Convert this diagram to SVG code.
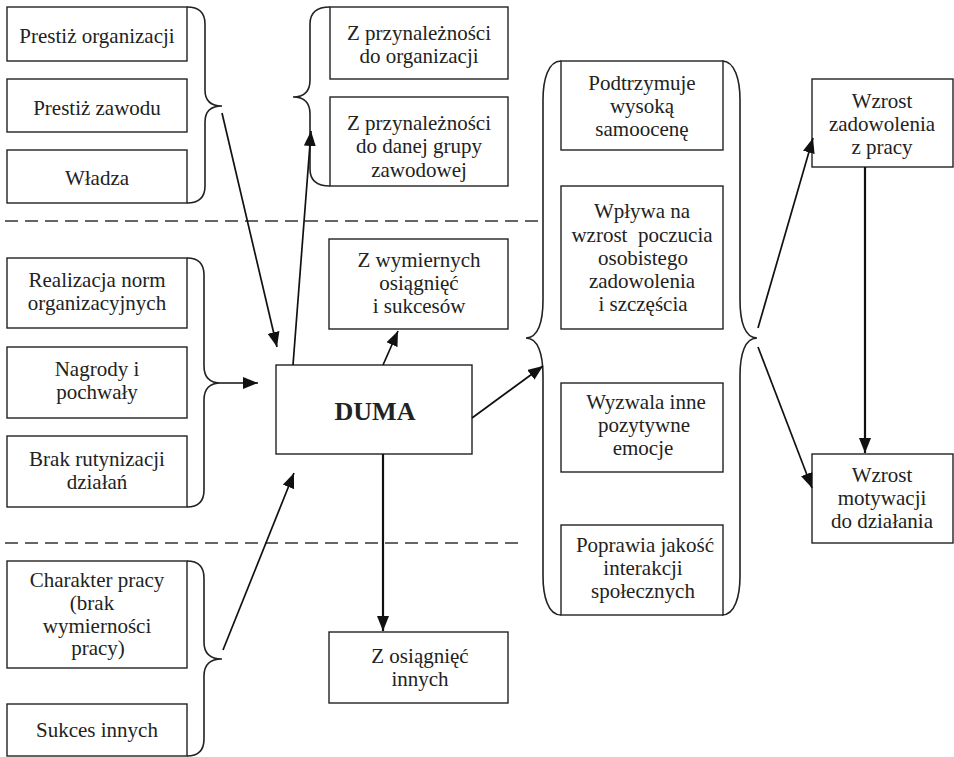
<svg xmlns="http://www.w3.org/2000/svg" width="954" height="757" viewBox="0 0 954 757">
  <style>
    .box { fill: #fff; stroke: #222; stroke-width: 1.4; }
    .brace { fill: none; stroke: #222; stroke-width: 1.6; }
    .t { font-family: "Liberation Serif", "Times New Roman", serif; font-size: 21px; fill: #222; text-anchor: middle; }
    .big { font-family: "Liberation Serif", "Times New Roman", serif; font-size: 26px; font-weight: bold; fill: #222; text-anchor: middle; }
    .conn { fill: none; stroke: #111; stroke-width: 1.7; }
    .thick { stroke-width: 2.2; }
    .dash { fill: none; stroke: #333; stroke-width: 1.5; stroke-dasharray: 13 7; }
  </style>
  <defs>
    <marker id="arrow" markerUnits="userSpaceOnUse" markerWidth="16" markerHeight="12" refX="15" refY="6" orient="auto">
      <path d="M0,0 L15,6 L0,12 z" fill="#111"/>
    </marker>
  </defs>

  <rect width="954" height="757" fill="#fff"/>

  <!-- section separators -->
  <g id="separators">
    <line class="dash" x1="5" y1="221" x2="540" y2="221"/>
    <line class="dash" x1="5" y1="543" x2="525" y2="543"/>
  </g>

  <!-- braces grouping the boxes -->
  <g id="braces">
    <path class="brace" d="M187,7 Q205,7 205,24 L205,90 Q205,106 222,106 Q205,106 205,122 L205,186 Q205,203 187,203"/>
    <path class="brace" d="M330,7 Q310,7 310,24 L310,80 Q310,97 293,97 Q310,97 310,114 L310,169 Q310,186 330,186"/>
    <path class="brace" d="M187,258 Q204,258 204,275 L204,366 Q204,383 221,383 Q204,383 204,400 L204,490 Q204,507 187,507"/>
    <path class="brace" d="M187,561 Q204,561 204,578 L204,642 Q204,659 222,659 Q204,659 204,676 L204,739 Q204,756 187,756"/>
    <path class="brace" d="M561,61 C548,61 543,80 543,100 L543,300 C543,322 538,338 526,338 C538,338 543,354 543,376 L543,576 C543,596 548,615 561,615"/>
    <path class="brace" d="M722,61 C735,61 740,80 740,100 L740,300 C740,322 745,338 757,338 C745,338 740,354 740,376 L740,576 C740,596 735,615 722,615"/>
  </g>

  <!-- left column -->
  <g id="prestiz-organizacji">
    <rect class="box" x="7" y="7" width="180" height="54"/>
    <text class="t" x="97" y="43">Prestiż organizacji</text>
  </g>
  <g id="prestiz-zawodu">
    <rect class="box" x="7" y="79" width="180" height="53"/>
    <text class="t" x="97" y="115">Prestiż zawodu</text>
  </g>
  <g id="wladza">
    <rect class="box" x="7" y="150" width="180" height="53"/>
    <text class="t" x="97" y="185">Władza</text>
  </g>
  <g id="realizacja-norm">
    <rect class="box" x="7" y="258" width="180" height="70"/>
    <text class="t" x="97" y="287">Realizacja norm</text>
    <text class="t" x="97" y="310">organizacyjnych</text>
  </g>
  <g id="nagrody">
    <rect class="box" x="7" y="347" width="180" height="71"/>
    <text class="t" x="97" y="376">Nagrody i</text>
    <text class="t" x="97" y="399">pochwały</text>
  </g>
  <g id="brak-rutynizacji">
    <rect class="box" x="7" y="436" width="180" height="71"/>
    <text class="t" x="97" y="466">Brak rutynizacji</text>
    <text class="t" x="97" y="489">działań</text>
  </g>
  <g id="charakter-pracy">
    <rect class="box" x="7" y="561" width="180" height="107"/>
    <text class="t" x="97" y="587">Charakter pracy</text>
    <text class="t" x="92" y="610">(brak</text>
    <text class="t" x="97" y="633">wymierności</text>
    <text class="t" x="98" y="655">pracy)</text>
  </g>
  <g id="sukces-innych">
    <rect class="box" x="7" y="704" width="180" height="52"/>
    <text class="t" x="97" y="737">Sukces innych</text>
  </g>

  <!-- middle column -->
  <g id="przynaleznosc-organizacja">
    <rect class="box" x="330" y="7" width="178" height="72"/>
    <text class="t" x="419" y="40">Z przynależności</text>
    <text class="t" x="419" y="63">do organizacji</text>
  </g>
  <g id="przynaleznosc-grupa">
    <rect class="box" x="330" y="97" width="178" height="89"/>
    <text class="t" x="419" y="130">Z przynależności</text>
    <text class="t" x="419" y="153">do danej grupy</text>
    <text class="t" x="419" y="177">zawodowej</text>
  </g>
  <g id="wymierne-osiagniecia">
    <rect class="box" x="329" y="239" width="179" height="90"/>
    <text class="t" x="419" y="267">Z wymiernych</text>
    <text class="t" x="419" y="290">osiągnięć</text>
    <text class="t" x="419" y="313">i sukcesów</text>
  </g>
  <g id="duma">
    <rect class="box" x="276" y="365" width="196" height="89"/>
    <text class="big" x="375" y="420">DUMA</text>
  </g>
  <g id="osiagniecia-innych">
    <rect class="box" x="329" y="632" width="179" height="71"/>
    <text class="t" x="420" y="663">Z osiągnięć</text>
    <text class="t" x="420" y="686">innych</text>
  </g>

  <!-- effects column -->
  <g id="samoocena">
    <rect class="box" x="561" y="61" width="162" height="89"/>
    <text class="t" x="642" y="90">Podtrzymuje</text>
    <text class="t" x="642" y="113">wysoką</text>
    <text class="t" x="642" y="136">samoocenę</text>
  </g>
  <g id="zadowolenie-osobiste">
    <rect class="box" x="561" y="186" width="162" height="143"/>
    <text class="t" x="642" y="218">Wpływa na</text>
    <text class="t" x="642" y="242" xml:space="preserve">wzrost  poczucia</text>
    <text class="t" x="643" y="265">osobistego</text>
    <text class="t" x="642" y="288">zadowolenia</text>
    <text class="t" x="643" y="311">i szczęścia</text>
  </g>
  <g id="pozytywne-emocje">
    <rect class="box" x="561" y="383" width="162" height="89"/>
    <text class="t" x="646" y="409">Wyzwala inne</text>
    <text class="t" x="644" y="432">pozytywne</text>
    <text class="t" x="643" y="455">emocje</text>
  </g>
  <g id="interakcje">
    <rect class="box" x="561" y="525" width="162" height="90"/>
    <text class="t" x="645" y="552">Poprawia jakość</text>
    <text class="t" x="643" y="575">interakcji</text>
    <text class="t" x="643" y="598">społecznych</text>
  </g>

  <!-- outcomes column -->
  <g id="zadowolenie-z-pracy">
    <rect class="box" x="812" y="79" width="141" height="88"/>
    <text class="t" x="882" y="108">Wzrost</text>
    <text class="t" x="882" y="131">zadowolenia</text>
    <text class="t" x="882" y="154">z pracy</text>
  </g>
  <g id="motywacja">
    <rect class="box" x="812" y="454" width="141" height="89"/>
    <text class="t" x="882" y="482">Wzrost</text>
    <text class="t" x="882" y="505">motywacji</text>
    <text class="t" x="882" y="528">do działania</text>
  </g>

  <!-- connectors -->
  <g id="connectors">
    <line class="conn" x1="222" y1="113" x2="277" y2="347" marker-end="url(#arrow)"/>
    <line class="conn" x1="293" y1="365" x2="311" y2="131" marker-end="url(#arrow)"/>
    <line class="conn" x1="221" y1="383" x2="258" y2="383" marker-end="url(#arrow)"/>
    <line class="conn" x1="223" y1="650" x2="294" y2="473" marker-end="url(#arrow)"/>
    <line class="conn" x1="383" y1="365" x2="398" y2="331" marker-end="url(#arrow)"/>
    <line class="conn" x1="472" y1="418" x2="543" y2="366" marker-end="url(#arrow)"/>
    <line class="conn thick" x1="383" y1="454" x2="383" y2="631" marker-end="url(#arrow)"/>
    <line class="conn" x1="758" y1="328" x2="813" y2="138" marker-end="url(#arrow)"/>
    <line class="conn" x1="758" y1="347" x2="812" y2="488" marker-end="url(#arrow)"/>
    <line class="conn thick" x1="865" y1="167" x2="865" y2="453" marker-end="url(#arrow)"/>
  </g>
</svg>
